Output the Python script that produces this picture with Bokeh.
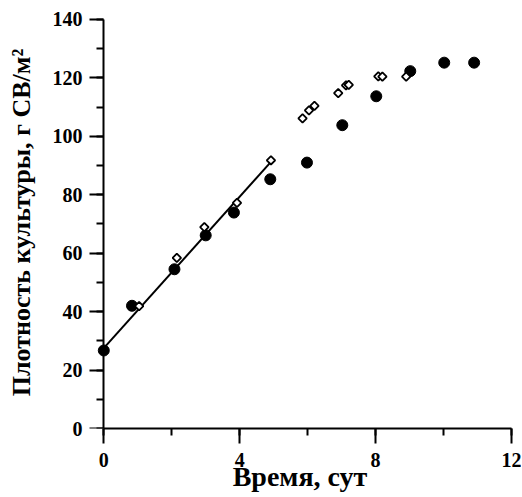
import numpy as np
from bokeh.plotting import figure
from bokeh.models import Range1d, SingleIntervalTicker, LinearAxis
from bokeh.embed import file_html
from bokeh.resources import INLINE

# Filled circles
circ_x = [0.0, 0.83, 2.08, 3.0, 3.83, 4.9, 5.98, 7.02, 8.02, 9.02, 10.02, 10.9]
circ_y = [26.7, 42.0, 54.5, 66.1, 73.9, 85.3, 91.0, 103.8, 113.7, 122.3, 125.2, 125.2]

# Open diamonds
diam_x = [1.04, 2.15, 2.96, 3.92, 4.92, 5.85, 6.04, 6.2, 6.9, 7.13, 7.21, 8.08, 8.2, 8.9]
diam_y = [41.9, 58.4, 68.9, 77.2, 91.8, 106.1, 108.9, 110.4, 114.8, 117.4, 117.6, 120.5, 120.4, 120.4]

# Linear fit line (end points)
line_x = [0.0, 4.9]
line_y = [27.5, 91.0]

x_label = "Время, сут"
y_label = "Плотность культуры, г СВ/м²"

FONT = "Liberation Serif"

p = figure(
    frame_width=423, frame_height=412,
    x_range=Range1d(-0.45, 12.0), y_range=Range1d(0, 141),
    output_backend="svg", toolbar_location=None,
    min_border_left=88, min_border_top=16, min_border_right=10, min_border_bottom=0,
)
p.grid.visible = False
p.outline_line_color = None
p.background_fill_color = "white"
p.border_fill_color = "white"

p.line(line_x, line_y, line_color="black", line_width=2)
p.scatter(circ_x, circ_y, marker="circle", size=11, fill_color="black", line_color="black")
p.scatter(diam_x, diam_y, marker="square", angle=np.pi / 4, size=6,
          fill_color="white", line_color="black", line_width=1.8)

xa = p.xaxis[0]
ya = p.yaxis[0]  # carries tick labels and axis title
xa.ticker = SingleIntervalTicker(interval=4, num_minor_ticks=2)
ya.ticker = SingleIntervalTicker(interval=20, num_minor_ticks=2)
xa.bounds = (0, 12)
ya.bounds = (0, 140)

# axis line and ticks drawn at x = 0
yb = LinearAxis(fixed_location=0, bounds=(0, 140),
                ticker=SingleIntervalTicker(interval=20, num_minor_ticks=2))
yb.major_label_text_color = None
p.add_layout(yb, "left")

for ax in (xa, ya, yb):
    ax.axis_line_width = 2
    ax.axis_line_color = "black"
    ax.major_tick_line_width = 2
    ax.minor_tick_line_width = 2
    ax.major_tick_line_color = "black"
    ax.minor_tick_line_color = "black"
    ax.major_tick_in = 0
    ax.minor_tick_in = 0
    ax.major_label_text_font = FONT
    ax.major_label_text_font_style = "bold"
    ax.major_label_text_font_size = "20px"
    ax.axis_label_text_font = FONT
    ax.axis_label_text_font_style = "bold"
    ax.axis_label_text_color = "black"

xa.major_label_text_color = "black"
ya.major_label_text_color = "black"

ya.axis_line_color = None
ya.major_tick_line_color = None
ya.minor_tick_line_color = None
ya.major_tick_out = 0
ya.minor_tick_out = 0
ya.major_label_standoff = 6

yb.major_tick_out = 14
yb.minor_tick_out = 7

xa.major_tick_out = 15
xa.minor_tick_out = 7
xa.major_label_standoff = 9

xa.axis_label = x_label
ya.axis_label = y_label
xa.axis_label_text_font_size = "28px"
ya.axis_label_text_font_size = "26px"
xa.axis_label_standoff = -9
ya.axis_label_standoff = 14

open("out.html", "w").write(file_html(p, INLINE))
